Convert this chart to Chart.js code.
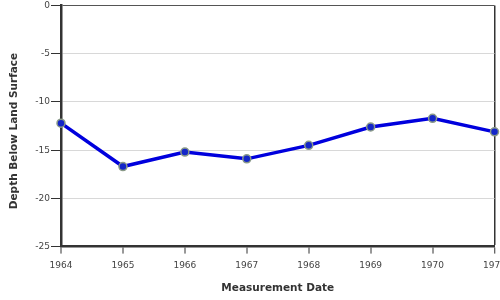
<!DOCTYPE html>
<html>
<head>
<meta charset="utf-8">
<script src="https://cdn.jsdelivr.net/npm/chart.js@4"></script>
<style>
  html, body { margin: 0; padding: 0; background: #fff; }
  #wrap { width: 500px; height: 300px; }
</style>
</head>
<body>
<div id="wrap"><canvas id="chart"></canvas></div>
<script>
// Data
const years = ['1964', '1965', '1966', '1967', '1968', '1969', '1970', '1971'];
const depth = [-12.2, -16.7, -15.2, -15.9, -14.5, -12.6, -11.7, -13.1];
const yTicks = [0, -5, -10, -15, -20, -25];
const yTitle = 'Depth Below Land Surface';

const font = 'DejaVu Sans';
const last = years.length - 1;

// y title sits a bit below the middle of the axis in the original
const yTitlePlugin = {
  id: 'yTitle',
  afterDraw(chart) {
    const c = chart.ctx;
    c.save();
    c.translate(14, 131);
    c.rotate(-Math.PI / 2);
    c.font = 'bold 10.5px "DejaVu Sans"';
    c.fillStyle = '#333';
    c.textAlign = 'center';
    c.textBaseline = 'middle';
    c.fillText(yTitle, 0, 0);
    c.restore();
  }
};

new Chart(document.getElementById('chart'), {
  type: 'line',
  data: {
    labels: years,
    datasets: [{
      data: depth,
      borderColor: '#0000dd',
      borderWidth: 3.5,
      pointRadius: 4,
      pointBackgroundColor: '#1426c8',
      pointBorderColor: '#8a9a88',
      pointBorderWidth: 1.5,
      tension: 0
    }]
  },
  plugins: [yTitlePlugin],
  options: {
    responsive: true,
    maintainAspectRatio: false,
    animation: false,
    layout: { padding: { left: 0, right: 5, top: 4, bottom: 5 } },
    plugins: { legend: { display: false }, tooltip: { enabled: false } },
    scales: {
      x: {
        offset: false,
        // let the last label run off the edge like the original
        afterFit: s => { s.paddingRight = 0; s.paddingLeft = 0; },
        border: { display: true, color: '#333', width: 2.5 },
        grid: {
          drawOnChartArea: true,
          color: ctx => ctx.index === last ? '#333' : 'rgba(0,0,0,0)',
          lineWidth: ctx => ctx.index === last ? 1.5 : 0,
          tickColor: '#333',
          tickLength: 7,
          tickWidth: 1
        },
        ticks: { color: '#444', font: { family: font, size: 9 }, padding: 7, maxRotation: 0, autoSkip: false },
        title: { display: true, text: 'Measurement Date', color: '#333', font: { family: font, size: 10.5, weight: 'bold' }, padding: { top: 4, bottom: 0 } }
      },
      y: {
        min: -25,
        max: 0,
        afterBuildTicks: s => { s.ticks = yTicks.map(v => ({ value: v })); },
        afterFit: s => { s.width = 61; s.paddingTop = 0; s.paddingBottom = 0; },
        border: { display: true, color: '#333', width: 2.5 },
        grid: {
          color: ctx => ctx.tick && ctx.tick.value === 0 ? '#555' : '#d8d8d8',
          lineWidth: 1,
          tickColor: '#333',
          tickLength: 10
        },
        ticks: { color: '#444', font: { family: font, size: 9 }, padding: 1 }
      }
    }
  }
});
</script>
</body>
</html>
